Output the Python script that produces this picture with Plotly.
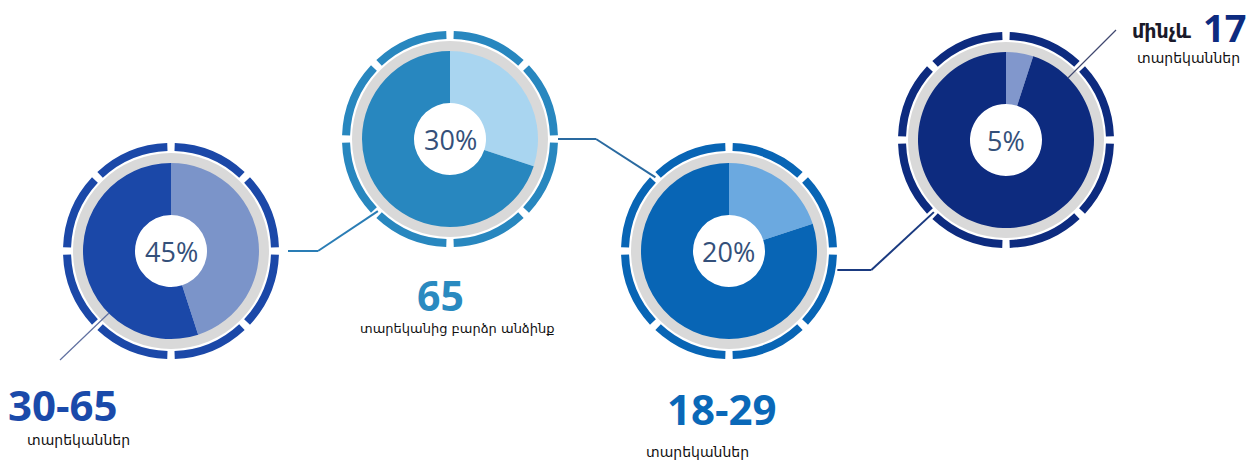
import plotly.graph_objects as go
import math

# ---------------- data ----------------
groups = ["30-65", "65", "18-29", "17"]
shares = [45, 30, 20, 5]          # percent shown in each donut
rest = [100 - s for s in shares]
pct_labels = ["45%", "30%", "20%", "5%"]
big_labels = ["30-65", "65", "18-29", "17"]
sub_labels = ["տարեկաններ", "տարեկանից բարձր անձինք", "տարեկաններ", "տարեկաններ"]
prefix_17 = "մինչև"
ring_gap = 4        # degrees, decorative outer ring gaps
ring_dash = 41      # degrees, decorative outer ring dashes

# ---------------- style / layout ----------------
W, H = 1253, 472
centers = [(171, 251), (450, 139), (729, 251), (1006, 140)]
main_col = ["#1b48a8", "#2887bf", "#0865b5", "#0d2b7f"]
light_col = ["#7b94c9", "#a9d5f0", "#6ba9e0", "#8197cc"]
text_col = ["#1a4aaa", "#2a8ac0", "#0a68b8", "#0d2b80"]
R_DASH_OUT, R_DASH_IN = 108, 100
R_GRAY_OUT = 98
R_PIE = 88
R_HOLE = 36


def dom(cx, cy, r):
    return dict(x=[(cx - r) / W, (cx + r) / W],
                y=[1 - (cy + r) / H, 1 - (cy - r) / H])


fig = go.Figure()
for i, (cx, cy) in enumerate(centers):
    # decorative dashed ring
    vals = [ring_gap / 2]
    cols = ["rgba(0,0,0,0)"]
    for k in range(8):
        vals.append(ring_dash)
        cols.append(main_col[i])
        vals.append(ring_gap if k < 7 else ring_gap / 2)
        cols.append("rgba(0,0,0,0)")
    fig.add_trace(go.Pie(values=vals, marker=dict(colors=cols, line=dict(width=0)),
                         hole=R_DASH_IN / R_DASH_OUT, sort=False, direction="clockwise",
                         rotation=0, textinfo="none", hoverinfo="skip",
                         domain=dom(cx, cy, R_DASH_OUT), showlegend=False))
    # gray ring
    fig.add_trace(go.Pie(values=[1], marker=dict(colors=["#d9d9d9"], line=dict(width=0)),
                         hole=(R_PIE - 1) / R_GRAY_OUT, sort=False, textinfo="none",
                         hoverinfo="skip", domain=dom(cx, cy, R_GRAY_OUT), showlegend=False))
    # main donut
    fig.add_trace(go.Pie(values=[shares[i], rest[i]], labels=["a", "b"],
                         marker=dict(colors=[light_col[i], main_col[i]], line=dict(width=0)),
                         hole=R_HOLE / R_PIE, sort=False, direction="clockwise", rotation=0,
                         textinfo="none", hoverinfo="skip",
                         domain=dom(cx, cy, R_PIE), showlegend=False))
    fig.add_annotation(x=cx / W, y=1 - cy / H, xref="paper", yref="paper",
                       text=pct_labels[i], showarrow=False, xanchor="center", yanchor="middle",
                       font=dict(family="Open Sans", size=27, color="#34507a"))


def ann(txt, x, y, size, color, bold=False, family="Open Sans, DejaVu Sans"):
    fig.add_annotation(x=x / W, y=1 - y / H, xref="paper", yref="paper",
                       text=f"<b>{txt}</b>" if bold else txt, showarrow=False,
                       xanchor="center", yanchor="middle",
                       font=dict(family=family, size=size, color=color))


ann(big_labels[0], 63, 404, 42, text_col[0], True)
ann(sub_labels[0], 78, 440, 14, "#111111", family="DejaVu Sans")
ann(big_labels[1], 440, 295, 41, text_col[1], True)
ann(sub_labels[1], 457, 328, 13, "#111111", family="DejaVu Sans")
ann(big_labels[2], 722, 408, 42, text_col[2], True)
ann(sub_labels[2], 698, 452, 14, "#111111", family="DejaVu Sans")
ann(prefix_17, 1162, 31, 19, "#1a1a2a", True, family="DejaVu Sans")
ann(big_labels[3], 1224, 27, 38, text_col[3], True)
ann(sub_labels[3], 1188, 58, 14, "#111111", family="DejaVu Sans")


def px(x, y):
    return x / W, 1 - y / H


def polyline(points, color, width):
    for (x0, y0), (x1, y1) in zip(points[:-1], points[1:]):
        a, b = px(x0, y0)
        c, d = px(x1, y1)
        fig.add_shape(type="line", xref="paper", yref="paper", x0=a, y0=b, x1=c, y1=d,
                      line=dict(color=color, width=width))


def on_ring(i, ang_deg, r):
    cx, cy = centers[i]
    a = math.radians(ang_deg)
    return cx + r * math.sin(a), cy - r * math.cos(a)


# connectors between donuts
p0 = on_ring(0, 90, R_DASH_OUT + 9)
p1 = on_ring(1, 225, R_DASH_OUT - 6)
polyline([p0, (p0[0] + 30, p0[1]), p1], "#2a7db5", 2)
p0 = on_ring(1, 90, R_DASH_OUT)
p1 = on_ring(2, 315, R_DASH_OUT - 4)
polyline([p0, (p0[0] + 38, p0[1]), p1], "#2a6aa0", 2)
p0 = on_ring(2, 100, R_DASH_OUT + 2)
p1 = on_ring(3, 225, R_DASH_OUT - 6)
polyline([p0, (p0[0] + 34, p0[1]), p1], "#1a3a80", 2)
# pointer lines
polyline([on_ring(0, 225, R_PIE), (60, 360)], "#6070a0", 1.2)
polyline([on_ring(3, 45, R_PIE), (1116, 30)], "#404870", 1.2)

fig.update_layout(width=W, height=H, margin=dict(l=0, r=0, t=0, b=0),
                  paper_bgcolor="white", plot_bgcolor="white")
fig.write_html("out.html", config={"displayModeBar": False},
               post_script="document.body.style.margin='0';document.body.style.overflow='hidden';")
